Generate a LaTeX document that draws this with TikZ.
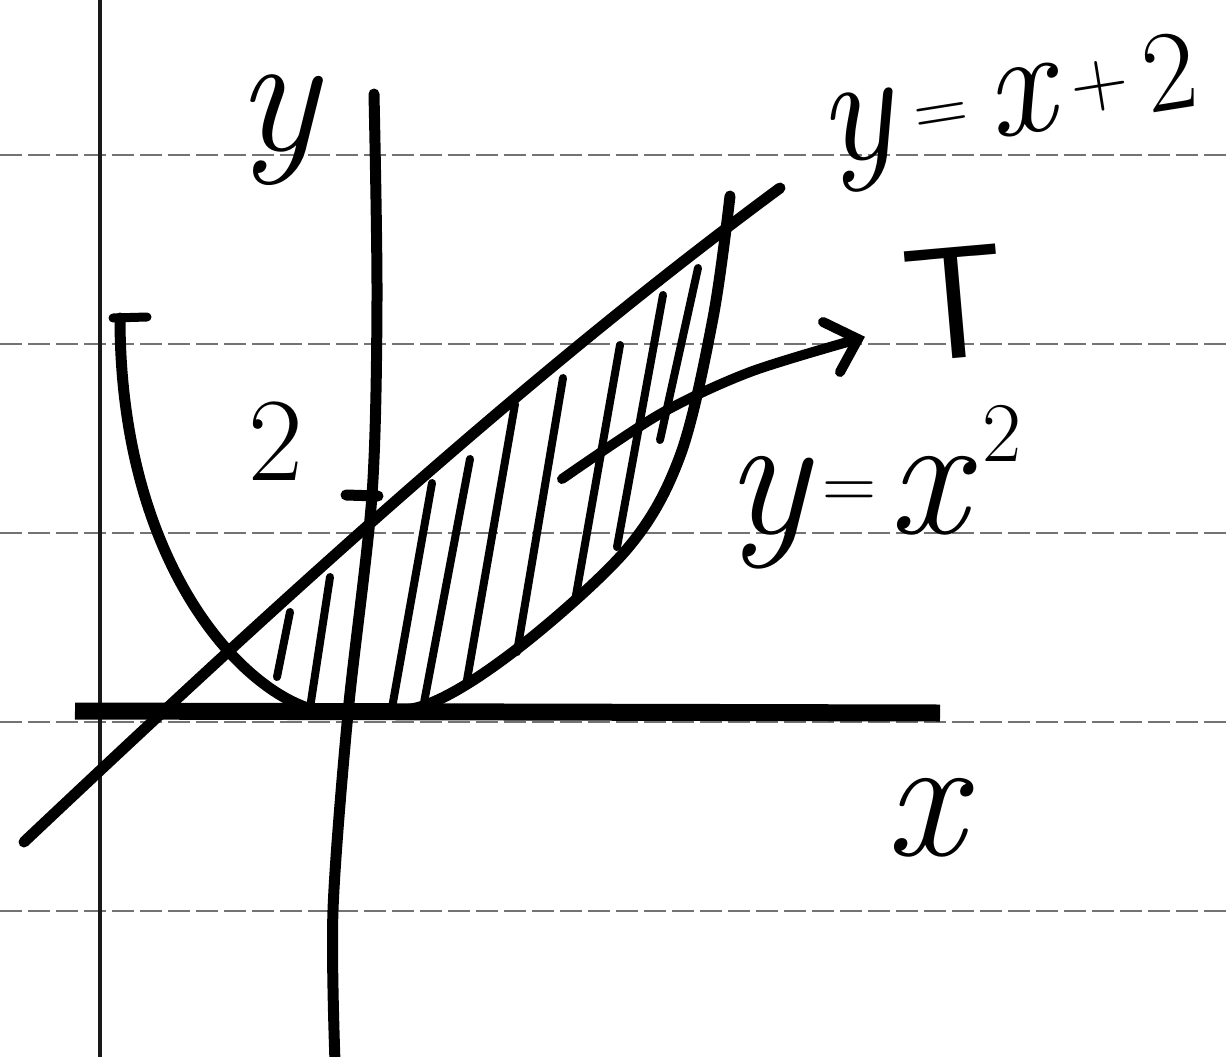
\documentclass[tikz,border=0pt]{standalone}
\usepackage{fontspec}
\newcommand\szz[1]{\fontsize{#1}{#1}\selectfont}
\tikzset{
  curve/.style={line width=11pt, line cap=round, line join=round},
  hatch/.style={line width=8pt, line cap=round},
  ruled/.style={line width=2.5pt, black!55, dash pattern=on 22pt off 6pt},
  lbl/.style={inner sep=0pt, outer sep=0pt}
}
\begin{document}
\begin{tikzpicture}[x=1pt,y=-1pt]
\fill[white] (0,0) rectangle (1231,1057);
\useasboundingbox (0,0) rectangle (1231,1057);
% ruled paper lines
\foreach \yy in {155,344,533,722,911} \draw[ruled] (0,\yy) -- (1231,\yy);
% margin line
\draw[line width=4pt, black!90] (100,0) -- (100,1057);
% x-axis
\draw[line width=17pt] (75,711) -- (940,713);
% y-axis
\draw[curve] plot[smooth, tension=0.5] coordinates {(374,94) (377,300) (372,495) (348,713) (333,910) (335,1062)};
% line y = x + 2
\draw[curve] (24,842) .. controls (270,610) and (520,380) .. (780,188);
% parabola y = x^2
\draw[curve] (120,318) .. controls (120,580) and (260,713) .. (335,713);
\draw[curve] plot[smooth, tension=0.55] coordinates {(330,713) (423,706) (517,649) (627,549) (680,456) (713,318) (730,196)};
\draw[line width=9pt, line cap=round] (113,318) -- (147,317);
% tick at y = 2
\draw[curve] (346,495) -- (378,496);
% hatching
\draw[hatch] (277,677) -- (290,612);
\draw[hatch] (310,708) -- (330,577);
\draw[hatch] (392,708) -- (432,483);
\draw[hatch] (423,708) -- (470,459);
\draw[hatch] (467,680) -- (515,404);
\draw[hatch] (517,652) -- (563,378);
\draw[hatch] (575,601) -- (620,345);
\draw[hatch] (617,547) -- (663,295);
\draw[hatch] (660,440) -- (698,268);
% arrow to T
\coordinate (atail) at (562,479);
\coordinate (atip) at (858,339);
\coordinate (bup) at (823,322);
\coordinate (blow) at (840,372);
\draw[line width=10pt, line cap=round, line join=round] plot[smooth, tension=0.5] coordinates {(atail) (660,414) (750,372) (atip)};
\draw[line width=10pt, line cap=round] (bup) -- (atip) -- (blow);
% labels
\node[lbl, anchor=base] (ylab) at (277,150) {\szz{172}\itshape y};
\node[lbl, anchor=base] (twolab) at (276,480) {\szz{119}2};
\node[lbl, anchor=base] (xlab) at (925,855) {\szz{175}\itshape x};
\node[lbl, anchor=base, rotate=5] (tlab) at (960,358) {\szz{160}\sffamily T};
\node[lbl, anchor=base west, rotate=9] (linelab) at (825,165) {{\szz{155}\itshape y}\kern22pt\raisebox{14pt}{\szz{75}=}\kern20pt{\szz{150}\itshape x}\kern18pt\raisebox{15pt}{\szz{80}+}\kern16pt{\szz{115}2}};
\node[lbl, anchor=base west] (parlab) at (725,533) {{\szz{175}\itshape y}\kern14pt\raisebox{25pt}{\szz{75}=}\kern12pt{\szz{175}\itshape x}\kern16pt\raisebox{72pt}{\szz{85}2}};
\end{tikzpicture}
\end{document}
